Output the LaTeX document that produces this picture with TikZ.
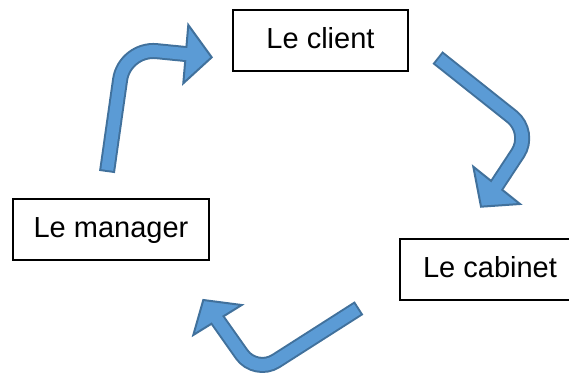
\documentclass[tikz,border=0pt]{standalone}
\usepackage{fontspec}
\setmainfont{Liberation Sans}
\usetikzlibrary{calc}
\definecolor{flowblue}{RGB}{91,155,213}
\definecolor{flowedge}{RGB}{65,113,156}
\tikzset{
  actor/.style={draw, line width=1.6pt, minimum height=61pt, inner sep=0pt,
    font=\fontsize{29}{35}\selectfont, text height=21.75pt, text depth=5.8pt},
  shaftout/.style={draw=flowedge, line width=16pt, rounded corners=#1},
  shaftin/.style={draw=flowblue, line width=12pt, rounded corners=#1,
    shorten <=2pt, shorten >=-2.5pt},
  flowtip/.style={fill=flowblue, draw=flowedge, line width=2pt}
}

\begin{document}
\begin{tikzpicture}[x=1pt,y=-1pt]
  \useasboundingbox (0,0) rectangle (569,374);

  % the three boxes
  \node[actor, minimum width=175pt] (client) at (320.5,40.5) {Le client};
  \node[actor, minimum width=196pt] (manager) at (111,229.5) {Le manager};
  \node[actor, minimum width=180pt] (cabinet) at (490,269.5) {Le cabinet};

  % manager -> client
  \coordinate (a1) at (107,172);
  \coordinate (b1) at (124.6,48);
  \coordinate (c1) at (185.5,54);
  \draw[shaftout=32pt] (a1) -- (b1) -- (c1);
  \draw[flowtip] (188.3,25) -- (211.7,57.3) -- (183.3,83.3) -- cycle;
  \draw[shaftin=32pt] (a1) -- (b1) -- (c1);

  % client -> cabinet
  \coordinate (a2) at (437.5,57.5);
  \coordinate (b2) at (531.6,132.3);
  \coordinate (c2) at (496.7,185.3);
  \draw[shaftout=25pt] (a2) -- (b2) -- (c2);
  \draw[flowtip] (473.3,166.7) -- (481,206.7) -- (520,204) -- cycle;
  \draw[shaftin=25pt] (a2) -- (b2) -- (c2);

  % cabinet -> manager
  \coordinate (a3) at (359,308);
  \coordinate (b3) at (255.6,374);
  \coordinate (c3) at (217.5,320);
  \draw[shaftout=24pt] (a3) -- (b3) -- (c3);
  \draw[flowtip] (241.7,305) -- (203.3,300) -- (193.3,335) -- cycle;
  \draw[shaftin=24pt] (a3) -- (b3) -- (c3);
\end{tikzpicture}
\end{document}
